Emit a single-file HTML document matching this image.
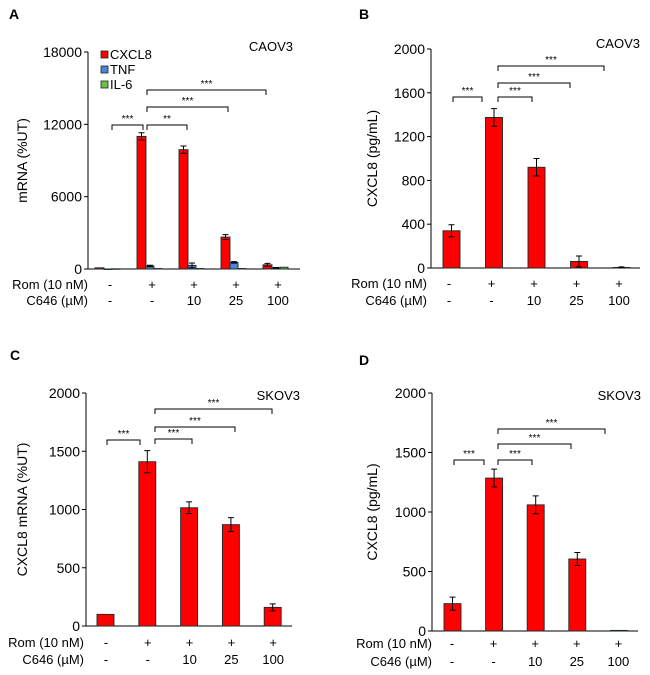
<!DOCTYPE html>
<html><head><meta charset="utf-8"><style>
body{margin:0;background:#fff;}
svg{display:block;font-family:"Liberation Sans",Arial,sans-serif;}
</style></head><body>
<svg id="fig" width="650" height="675" viewBox="0 0 650 675" xmlns="http://www.w3.org/2000/svg"></svg>
<script>
// ---- data ----
const groups = ["g1","g2","g3","g4","g5"];
const romLabels = ["-","+","+","+","+"];
const c646Labels = ["-","-","10","25","100"];
const aCXCL8 = [100, 11000, 9900, 2650, 350];
const aCXCL8Err = [0, 300, 300, 200, 120];
const aTNF = [0, 250, 300, 550, 100];
const aTNFErr = [0, 60, 200, 60, 20];
const aIL6 = [20, 40, 40, 40, 150];
const aTicks = [0, 6000, 12000, 18000];
const bVals = [340, 1375, 920, 60, 5];
const bErr = [55, 80, 80, 50, 5];
const bTicks = [0, 400, 800, 1200, 1600, 2000];
const cVals = [100, 1410, 1015, 870, 160];
const cErr = [0, 95, 50, 60, 30];
const cTicks = [0, 500, 1000, 1500, 2000];
const dVals = [230, 1285, 1060, 605, 5];
const dErr = [55, 75, 75, 55, 0];
const dTicks = [0, 500, 1000, 1500, 2000];
const starsA = ["***","**","***","***"];
const starsOther = ["***","***","***","***"];

const NS="http://www.w3.org/2000/svg";
const svg=document.getElementById('fig');
function mk(tag,attrs,parent){const e=document.createElementNS(NS,tag);for(const k in attrs)e.setAttribute(k,attrs[k]);(parent||svg).appendChild(e);return e;}
function txt(s,attrs,parent){const e=mk('text',attrs,parent);e.textContent=s;return e;}

function panel(cfg){
  const g=mk('g',{});
  
  
  const y=v=>cfg.y0-(v/cfg.ymax)*(cfg.y0-cfg.yTop);
  const gx=i=>cfg.gx0+i*cfg.gstep;
  const l=txt(cfg.letter,{x:cfg.letterX,y:cfg.letterY,'font-size':14,'font-weight':'bold'},g);
  
  
  const cl=txt(cfg.cell,{x:cfg.cellX,y:cfg.cellY,'font-size':13,'text-anchor':'end'},g);
  
  
  const ya=mk('line',{x1:cfg.ax,y1:cfg.yTop,x2:cfg.ax,y2:cfg.y0,stroke:'#000','stroke-width':1},g);
  
  
  const xa=mk('line',{x1:cfg.ax,y1:cfg.y0,x2:cfg.axR,y2:cfg.y0,stroke:'#000','stroke-width':1},g);
  
  
  cfg.ticks.forEach(t=>{
    mk('line',{x1:cfg.ax-4,y1:y(t),x2:cfg.ax,y2:y(t),stroke:'#000'},g);
    const tl=txt(String(t),{x:cfg.ax-6,y:y(t)+5,'font-size':14,'text-anchor':'end'},g);
    
    
  });
  const ty=(cfg.yTop+cfg.y0)/2;
  const yt=txt(cfg.ytitle,{x:cfg.titleX,y:ty,'font-size':14,'text-anchor':'middle',transform:`rotate(-90 ${cfg.titleX} ${ty})`},g);
  
  
  cfg.series.forEach((s,si)=>{
    s.vals.forEach((v,i)=>{
      const x=gx(i)+s.off;
      const b=mk('rect',{x:x,y:y(v),width:s.w,height:Math.max(0.5,cfg.y0-y(v)),fill:s.color,stroke:'#1a2a2a','stroke-width':0.9},g);
      
      
      if(s.err&&s.err[i]>0){
        const cx=x+s.w/2;
        const e=mk('path',{d:`M${cx} ${y(v+s.err[i])}V${y(Math.max(0,v-s.err[i]))}M${cx-3} ${y(v+s.err[i])}H${cx+3}M${cx-3} ${y(Math.max(0,v-s.err[i]))}H${cx+3}`,stroke:'#000','stroke-width':1,fill:'none'},g);
        
        
      }
    });
  });
  cfg.brackets.forEach((br,bi)=>{
    const p=mk('path',{d:`M${br[0]} ${br[2]+5}V${br[2]}H${br[1]}V${br[2]+5}`,stroke:'#000','stroke-width':1,fill:'none'},g);
    
    
    const st=txt(cfg.stars[bi],{x:(br[0]+br[1])/2,y:br[2]-3,'font-size':10,'text-anchor':'middle'},g);
    
    
  });
  const r1=txt('Rom (10 nM)',{x:cfg.rowLabelX,y:cfg.romY,'font-size':13,'text-anchor':'end'},g);
  
  
  const r2=txt('C646 (\u00b5M)',{x:cfg.rowLabelX,y:cfg.c646Y,'font-size':13,'text-anchor':'end'},g);
  
  
  groups.forEach((gname,i)=>{
    const cx=gx(i)+cfg.labelOff;
    const a=txt(romLabels[i],{x:cx,y:cfg.romY,'font-size':13,'text-anchor':'middle'},g);
    
    
    const b=txt(c646Labels[i],{x:cx,y:cfg.c646Y,'font-size':13,'text-anchor':'middle'},g);
    
    
  });
  return g;
}

const gA=panel({letter:'A',letterX:9,letterY:19,cell:'CAOV3',cellX:293,cellY:51,
  ax:88,axR:300,yTop:52,y0:269,ymax:18000,ticks:aTicks,ytitle:'mRNA (%UT)',titleX:27,
  gx0:95,gstep:42,labelOff:15,
  series:[{name:'cxcl8',vals:aCXCL8,err:aCXCL8Err,color:'#ff0000',off:0,w:9},
          {name:'tnf',vals:aTNF,err:aTNFErr,color:'#4a86d8',off:9,w:8},
          {name:'il6',vals:aIL6,err:null,color:'#6cc04a',off:17,w:8}],
  brackets:[[112,143,125],[147,187,125],[147,228,107],[147,266,90]],stars:starsA,
  rowLabelX:88,romY:289,c646Y:305});
[['CXCL8','#ff0000'],['TNF','#4a86d8'],['IL-6','#6cc04a']].forEach((L,i)=>{
  const lg=mk('g',{},gA);
  
  
  mk('rect',{x:101,y:51+i*15,width:7,height:7,fill:L[1],stroke:'#222','stroke-width':0.8},lg);
  txt(L[0],{x:110,y:59+i*15,'font-size':13},lg);
});

panel({letter:'B',letterX:359,letterY:19,cell:'CAOV3',cellX:640,cellY:48,
  ax:431,axR:640,yTop:49,y0:268,ymax:2000,ticks:bTicks,ytitle:'CXCL8 (pg/mL)',titleX:377,
  gx0:443,gstep:42.5,labelOff:6,
  series:[{name:'cxcl8',vals:bVals,err:bErr,color:'#ff0000',off:0,w:17}],
  brackets:[[453,482,97],[498,532,97],[498,570,83],[498,604,66]],stars:starsOther,
  rowLabelX:427,romY:288,c646Y:305});

panel({letter:'C',letterX:10,letterY:360,cell:'SKOV3',cellX:300,cellY:400,
  ax:86,axR:292,yTop:393,y0:626,ymax:2000,ticks:cTicks,ytitle:'CXCL8 mRNA (%UT)',titleX:27,
  gx0:97,gstep:41.8,labelOff:9,
  series:[{name:'cxcl8',vals:cVals,err:cErr,color:'#ff0000',off:0,w:17}],
  brackets:[[107,140,440],[155,192,439],[155,235,427],[155,272,409]],stars:starsOther,
  rowLabelX:84,romY:647,c646Y:664});

panel({letter:'D',letterX:359,letterY:365,cell:'SKOV3',cellX:641,cellY:400,
  ax:432,axR:638,yTop:393,y0:631,ymax:2000,ticks:dTicks,ytitle:'CXCL8 (pg/mL)',titleX:377,
  gx0:444,gstep:41.6,labelOff:8,
  series:[{name:'cxcl8',vals:dVals,err:dErr,color:'#ff0000',off:0,w:17}],
  brackets:[[454,484,460],[498,532,460],[498,571,444],[498,605,429]],stars:starsOther,
  rowLabelX:432,romY:648,c646Y:666});
</script>
</body></html>
